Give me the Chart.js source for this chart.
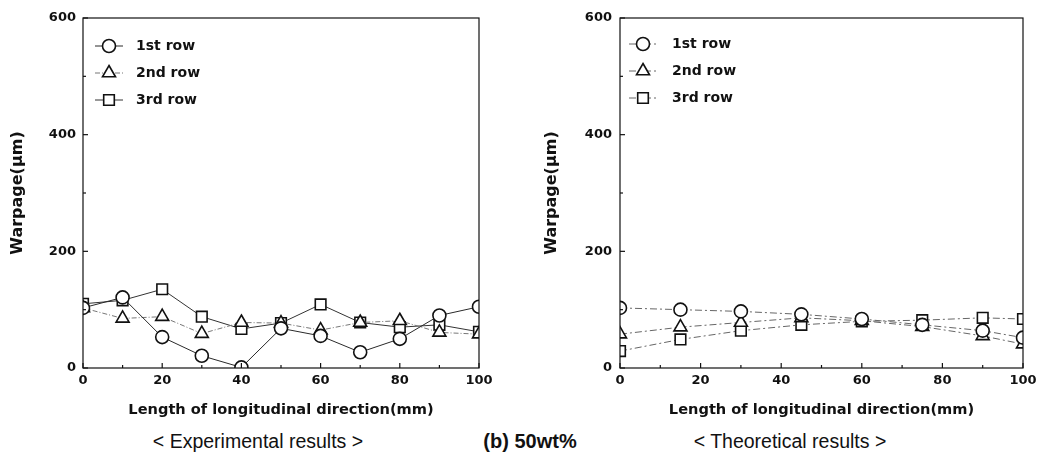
<!DOCTYPE html>
<html><head><meta charset="utf-8">
<script src="https://cdn.jsdelivr.net/npm/chart.js@4/dist/chart.umd.min.js"></script>
<style>
body{margin:0;background:#fff;width:1049px;height:475px;overflow:hidden;position:relative;font-family:"Liberation Sans",Arial,sans-serif;}
.c{position:absolute;top:0;height:425px;}
#w1{left:0;width:524px;}
#w2{left:524px;width:525px;}
.cap{position:absolute;top:430px;font-size:19.5px;color:#111;white-space:nowrap;transform:translateX(-50%);}
</style></head><body>
<div class="c" id="w1"><canvas id="c1"></canvas></div>
<div class="c" id="w2"><canvas id="c2"></canvas></div>
<div class="cap" style="left:258px">&lt; Experimental results &gt;</div>
<div class="cap" style="left:530px;font-weight:bold;font-size:20px">(b) 50wt%</div>
<div class="cap" style="left:790px">&lt; Theoretical results &gt;</div>
<script>
const seriesLabels = ['1st row', '2nd row', '3rd row'];
const expX = [0, 10, 20, 30, 40, 50, 60, 70, 80, 90, 100];
const exp1 = [103, 121, 53, 21, 1, 68, 55, 27, 50, 90, 105];
const exp2 = [103, 85, 88, 59, 78, 77, 65, 78, 81, 61, 58];
const exp3 = [110, 116, 135, 88, 67, 77, 109, 78, 70, 74, 62];
const theoX = [0, 15, 30, 45, 60, 75, 90, 100];
const theo1 = [103, 100, 97, 92, 84, 74, 64, 52];
const theo2 = [58, 70, 78, 86, 81, 71, 55, 41];
const theo3 = [29, 49, 64, 74, 80, 82, 86, 84];
const xTicks = [0, 20, 40, 60, 80, 100];
const xMinor = [10, 30, 50, 70, 90];
const yTicks = [0, 200, 400, 600];
const yMinor = [100, 300, 500];
const xTitle = 'Length of longitudinal direction(mm)';
const yTitle = 'Warpage(\u03bcm)';

const FONT = '"DejaVu Sans", sans-serif';
const INK = '#111';

function makeChart(id, xs, seriesArr, cfg) {
  const styles = ['circle', 'triangle', 'rect'];
  const radii = [6.5, 7.5, 7.5];
  const datasets = seriesArr.map((ys, i) => ({
    label: seriesLabels[i],
    data: xs.map((x, j) => ({x: x, y: ys[j]})),
    pointStyle: styles[i],
    pointRadius: radii[i],
    pointBackgroundColor: '#fff',
    pointBorderColor: INK,
    pointBorderWidth: 1.6,
    borderColor: cfg.lineColors[i],
    borderWidth: 1,
    borderDash: cfg.dashes[i],
    tension: 0,
    fill: false,
    clip: 0
  }));

  const framePlugin = {
    id: 'frame' + id,
    beforeDatasetsDraw(chart) {
      const ctx = chart.ctx;
      const a = chart.chartArea;
      ctx.save();
      ctx.beginPath();
      ctx.rect(a.left, a.top, a.right - a.left, a.bottom - a.top);
      ctx.clip();
    },
    afterDatasetsDraw(chart) {
      const ctx = chart.ctx;
      ctx.restore();
      const a = chart.chartArea;
      const sx = chart.scales.x, sy = chart.scales.y;
      ctx.save();
      ctx.strokeStyle = INK;
      ctx.lineWidth = 1.2;
      ctx.strokeRect(a.left, a.top, a.right - a.left, a.bottom - a.top);
      const seg = (x1, y1, x2, y2) => { ctx.beginPath(); ctx.moveTo(x1, y1); ctx.lineTo(x2, y2); ctx.stroke(); };
      xTicks.forEach(v => { const p = sx.getPixelForValue(v); seg(p, a.bottom, p, a.bottom - 5); });
      xMinor.forEach(v => { const p = sx.getPixelForValue(v); seg(p, a.bottom, p, a.bottom - 3); });
      yTicks.forEach(v => { const p = sy.getPixelForValue(v); seg(a.left, p, a.left + 5, p); });
      yMinor.forEach(v => { const p = sy.getPixelForValue(v); seg(a.left, p, a.left + 3, p); });
      ctx.restore();
    },
    afterDraw(chart) {
      const ctx = chart.ctx;
      const a = chart.chartArea;
      ctx.save();
      chart.data.datasets.forEach((ds, i) => {
        const cy = a.top + cfg.legTop + i * cfg.legGap;
        const mx = a.left + cfg.legMarkX;
        ctx.strokeStyle = ds.borderColor;
        ctx.lineWidth = 1;
        ctx.setLineDash(ds.borderDash || []);
        ctx.beginPath(); ctx.moveTo(mx - 14, cy); ctx.lineTo(mx + 14, cy); ctx.stroke();
        ctx.setLineDash([]);
        ctx.fillStyle = '#fff';
        ctx.strokeStyle = INK;
        ctx.lineWidth = ds.pointBorderWidth;
        Chart.helpers.drawPoint(ctx, {pointStyle: ds.pointStyle, radius: ds.pointRadius, borderWidth: ds.pointBorderWidth, rotation: 0}, mx, cy);
        ctx.fillStyle = INK;
        ctx.font = 'bold 14px ' + FONT;
        ctx.textBaseline = 'middle';
        ctx.textAlign = 'left';
        ctx.fillText(ds.label, mx + cfg.legTextDx, cy);
      });
      ctx.restore();
    }
  };

  return new Chart(document.getElementById(id), {
    type: 'line',
    data: {datasets: datasets},
    options: {
      responsive: true,
      maintainAspectRatio: false,
      animation: false,
      layout: {padding: cfg.pad},
      plugins: {legend: {display: false}, tooltip: {enabled: false}},
      scales: {
        x: {
          type: 'linear', min: 0, max: 100,
          afterBuildTicks: s => { s.ticks = xTicks.map(v => ({value: v})); },
          afterFit: s => { s.height = 57; },
          grid: {display: false, drawTicks: false},
          border: {display: false},
          ticks: {padding: 5, color: INK, maxRotation: 0, autoSkip: false, font: {family: FONT, size: 13, weight: 'bold'}},
          title: {display: true, text: xTitle, color: INK, font: {family: FONT, size: 14.6, weight: 'bold'}, padding: {top: 0, bottom: 6}}
        },
        y: {
          type: 'linear', min: 0, max: 600,
          afterBuildTicks: s => { s.ticks = yTicks.map(v => ({value: v})); },
          afterFit: s => { s.width = cfg.yWidth; },
          grid: {display: false, drawTicks: false},
          border: {display: false},
          ticks: {padding: cfg.yPad, color: INK, font: {family: FONT, size: 13, weight: 'bold'}},
          title: {display: true, text: yTitle, color: INK, font: {family: FONT, size: 16, weight: 'bold'}, padding: {top: cfg.yTitlePad, bottom: 0}}
        }
      }
    },
    plugins: [framePlugin]
  });
}

makeChart('c1', expX, [exp1, exp2, exp3], {
  pad: {top: 18, right: 45, left: 0, bottom: 0},
  yWidth: 83, yPad: 7, yTitlePad: 8,
  lineColors: ['#2a2a2a', '#777', '#333'],
  dashes: [[], [5, 2, 1, 2], []],
  legTop: 28, legGap: 27, legMarkX: 26, legTextDx: 27
});
makeChart('c2', theoX, [theo1, theo2, theo3], {
  pad: {top: 18, right: 26, left: 0, bottom: 0},
  yWidth: 96, yPad: 8, yTitlePad: 18,
  lineColors: ['#666', '#666', '#666'],
  dashes: [[7, 3, 2, 3], [7, 3, 2, 3], [7, 3, 2, 3]],
  legTop: 26, legGap: 27, legMarkX: 23, legTextDx: 29
});
</script>
</body></html>
